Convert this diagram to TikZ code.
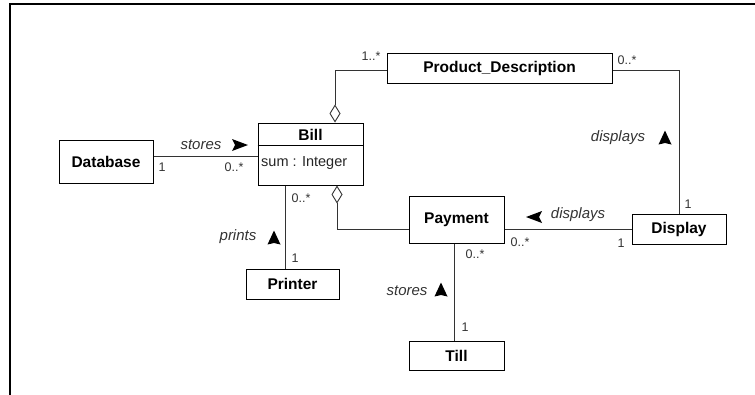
\documentclass[tikz,border=0pt]{standalone}
\usepackage{fontspec}
\setmainfont{Liberation Sans}
\usetikzlibrary{arrows.meta}
\begin{document}
\begin{tikzpicture}[x=1pt,y=-1pt,
  cls/.style={draw=black,line width=1pt,fill=white,inner sep=0pt,font=\fontsize{15.5}{17}\selectfont\bfseries},
  conn/.style={draw=black!80,line width=0.9pt},
  mult/.style={inner sep=0pt,text=black!80,font=\fontsize{12.5}{13}\selectfont},
  role/.style={inner sep=0pt,text=black!80,font=\fontsize{15}{16}\selectfont\itshape},
  attr/.style={inner sep=0pt,text=black!85,font=\fontsize{14.5}{16}\selectfont},
  agg/.style={{Diamond[open,length=18pt,width=11pt,line width=0.9pt]}-},
  arrR/.pic={\fill[black] (8,0) -- (-8,-6) -- (-5,0) -- (-8,6) -- cycle;},
  arrL/.pic={\fill[black] (-8,0) -- (8,-6) -- (5,0) -- (8,6) -- cycle;},
  arrU/.pic={\fill[black] (0,-7.5) -- (6.5,6.5) -- (0,5) -- (-6.5,6.5) -- cycle;}
]
\useasboundingbox (0,0) rectangle (755,394);
% frame
\draw[line width=2.2pt] (10,395) -- (10,4) -- (756,4);

% classes
\node[cls,minimum width=225pt,minimum height=30pt] (pd) at (499.5,68) {Product\_Description};
\node[cls,minimum width=105pt,minimum height=62pt] (bill) at (310.5,154) {};
\node[inner sep=0pt,font=\fontsize{15.5}{17}\selectfont\bfseries] (billname) at (310.5,135) {Bill};
\draw[line width=1pt] ([yshift=-23pt]bill.north west) -- ([yshift=-23pt]bill.north east);
\node[attr,anchor=west] (billattr) at (261,163) {sum : Integer};
\node[cls,minimum width=94pt,minimum height=43pt] (db) at (106,161.5) {Database};
\node[cls,minimum width=95pt,minimum height=47pt] (pay) at (456.5,219.5) {Payment};
\node[cls,minimum width=94pt,minimum height=30pt] (disp) at (679,229) {Display};
\node[cls,minimum width=93pt,minimum height=30pt] (prn) at (292.5,284) {Printer};
\node[cls,minimum width=95pt,minimum height=29pt] (till) at (456.5,355.5) {Till};

% connectors
\draw[conn] (db.east |- 0,156) -- (bill.west |- 0,156);
\draw[conn,agg] (bill.north -| 335,0) |- (pd.west |- 0,70);
\draw[conn] (pd.east |- 0,70) -| (disp.north);
\draw[conn] (pay.east |- 0,229) -- (disp.west |- 0,229);
\draw[conn] (bill.south -| 285,0) -- (prn.north -| 285,0);
\draw[conn,agg] (bill.south -| 337,0) |- (pay.west |- 0,229);
\draw[conn] (pay.south -| 454,0) -- (till.north -| 454,0);

% labels: Database - Bill
\node[role] (l1) at (201,145) {stores};
\pic at (240,145) {arrR};
\node[mult] (m1) at (162,167) {1};
\node[mult] (m2) at (234,167) {0..*};
% Bill - Product_Description
\node[mult] (m3) at (371,56) {1..*};
% Product_Description - Display
\node[mult] (m4) at (627,60) {0..*};
\node[role] (l2) at (618,138) {displays};
\pic at (665,138) {arrU};
\node[mult] (m5) at (688,204) {1};
% Payment - Display
\pic at (534,217) {arrL};
\node[role] (l3) at (578,215) {displays};
\node[mult] (m6) at (520,242) {0..*};
\node[mult] (m7) at (621,243) {1};
% Bill - Printer
\node[mult] (m8) at (301,198) {0..*};
\node[role] (l4) at (238,237) {prints};
\pic at (274,238) {arrU};
\node[mult] (m9) at (295,258) {1};
% Payment - Till
\node[mult] (m10) at (475,254) {0..*};
\node[role] (l5) at (407,291) {stores};
\pic at (441,290) {arrU};
\node[mult] (m11) at (465,327) {1};
\end{tikzpicture}
\end{document}
